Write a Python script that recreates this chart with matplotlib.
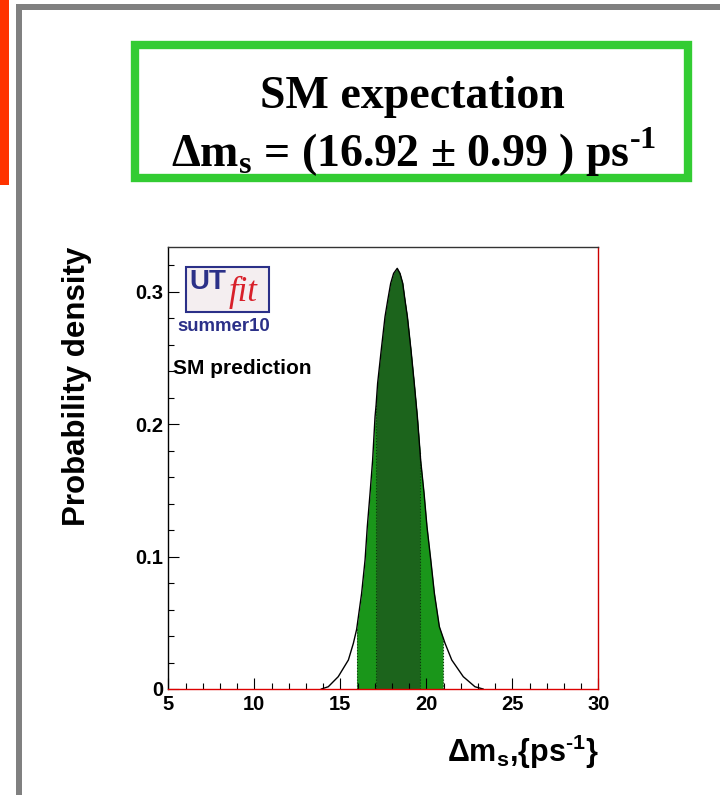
import numpy as np
import matplotlib
matplotlib.use("Agg")
import matplotlib.pyplot as plt
from matplotlib.patches import Rectangle

# Slide with the UTfit SM prediction for Delta m_s

plt.rcParams['font.family'] = ['Liberation Sans', 'DejaVu Sans']
plt.rcParams['font.weight'] = 'bold'

# Data
dm_values = np.array([13.9, 14.30, 14.88, 15.47, 15.76, 15.95, 16.24, 16.44, 16.57, 16.73,
                      16.88, 17.02, 17.08, 17.17, 17.38, 17.60, 17.76, 17.93, 18.10, 18.31,
                      18.47, 18.63, 18.76, 18.90, 19.11, 19.30, 19.48, 19.63, 19.67, 19.87,
                      20.04, 20.26, 20.47, 20.76, 20.97, 21.09, 21.48, 22.15, 22.83, 23.3])
density_values = np.array([0.0, 0.0017, 0.0093, 0.0219, 0.0345, 0.045, 0.0722, 0.0974, 0.1225, 0.1477,
                           0.1728, 0.2055, 0.214, 0.2307, 0.2558, 0.2810, 0.2936, 0.3062, 0.3137, 0.3175,
                           0.3137, 0.3062, 0.2936, 0.2810, 0.2558, 0.2307, 0.2055, 0.180, 0.1728, 0.1477,
                           0.1225, 0.0974, 0.0722, 0.047, 0.039, 0.0345, 0.0219, 0.0093, 0.0017, 0.0])
band68 = (17.08, 19.63)
band95 = (15.95, 20.97)
x_ticks = [5, 10, 15, 20, 25, 30]
y_ticks = [0, 0.1, 0.2, 0.3]
y_tick_labels = ['0', '0.1', '0.2', '0.3']

fig = plt.figure(figsize=(7.2, 7.95), dpi=100)

# slide decorations
fig.patches.append(Rectangle((0, 1 - 185/795), 9/720, 185/795, transform=fig.transFigure,
                             facecolor='#ff3300', edgecolor='none'))
fig.patches.append(Rectangle((16/720, 0), 6/720, 1 - 4/795, transform=fig.transFigure,
                             facecolor='#808080', edgecolor='none'))
fig.patches.append(Rectangle((16/720, 1 - 10/795), 1 - 16/720, 6/795, transform=fig.transFigure,
                             facecolor='#808080', edgecolor='none'))
fig.patches.append(Rectangle((135/720, 1 - 178/795), 553/720, 133/795, transform=fig.transFigure,
                             facecolor='none', edgecolor='#33cc33', linewidth=6))

fig.text(412/720, 1 - 108.5/795, 'SM expectation', ha='center', va='baseline',
         fontsize=33, family='Liberation Serif', weight='bold')
fig.text(414/720, 1 - 167/795,
         'Δm$_{\\mathregular{s}}$ = (16.92 ± 0.99 ) ps$^{\\mathregular{\u20101}}$',
         ha='center', va='baseline', fontsize=33, family='Liberation Serif', weight='bold')

# plot
ax = fig.add_axes([168.3/720, 106/795, 430/720, 442/795])
ax.set_xlim(5, 30)
ax.set_ylim(0, 0.3336)

in95 = (dm_values >= band95[0]) & (dm_values <= band95[1])
in68 = (dm_values >= band68[0]) & (dm_values <= band68[1])
ax.fill_between(dm_values, density_values, where=in95, color='#1a961a', linewidth=0)
ax.fill_between(dm_values, density_values, where=in68, color='#1c641c', linewidth=0)
edges = [band95[0], band68[0], band68[1], band95[1]]
edge_heights = [density_values[dm_values == e][0] for e in edges]
ax.vlines(edges, 0, edge_heights, colors='#0b3b0b', linestyles=':', linewidth=0.8)
ax.plot(dm_values, density_values, color='black', linewidth=1.0)

ax.set_xticks(x_ticks)
ax.set_xticks(np.arange(5, 31, 1), minor=True)
ax.set_yticks(y_ticks, y_tick_labels)
ax.set_yticks(np.arange(0, 0.33, 0.02), minor=True)
ax.tick_params(which='both', direction='in', labelsize=14.5, top=False, right=False)
ax.tick_params(which='major', length=8, width=0.8)
ax.tick_params(which='minor', length=4.3, width=0.8)
ax.tick_params(axis='x', pad=4)
ax.tick_params(axis='y', pad=3.6)
for lab in ax.get_xticklabels() + ax.get_yticklabels():
    lab.set_fontweight('bold')

ax.spines['bottom'].set_color('#dd0000')
ax.spines['right'].set_color('#cc0000')
ax.spines['left'].set_color('black')
ax.spines['top'].set_color('#333333')
for s in ax.spines.values():
    s.set_linewidth(1.0)

ax.set_ylabel('Probability density', fontsize=22.5, weight='bold', loc='top')
ax.yaxis.set_label_coords(-0.1774, 1.0)
ax.set_xlabel('Δm$_{\\mathregular{s}}$,{ps$^{\\mathregular{\u20101}}$}', fontsize=22, weight='bold', loc='right')
ax.xaxis.set_label_coords(1.0, -0.0995)

# UTfit logo
ax.add_patch(Rectangle((0.0412, 0.8536), 0.1937, 0.1018, transform=ax.transAxes,
                       facecolor='#f4eef0', edgecolor='#2b3088', linewidth=1.5))
ax.text(0.0914, 0.921, 'UT', transform=ax.transAxes, ha='center', va='center',
        fontsize=20, weight='bold', color='#2b3088')
ax.text(0.173, 0.897, 'fit', transform=ax.transAxes, ha='center', va='center',
        fontsize=25, family='Liberation Serif', style='italic', weight='normal', color='#d8202a')
ax.text(0.1288, 0.821, 'summer10', transform=ax.transAxes, ha='center', va='center',
        fontsize=13.4, weight='bold', color='#2b3088')
ax.text(0.011, 0.724, 'SM prediction', transform=ax.transAxes, ha='left', va='center',
        fontsize=15, weight='bold', color='black')

fig.savefig('out.png', dpi=100)
